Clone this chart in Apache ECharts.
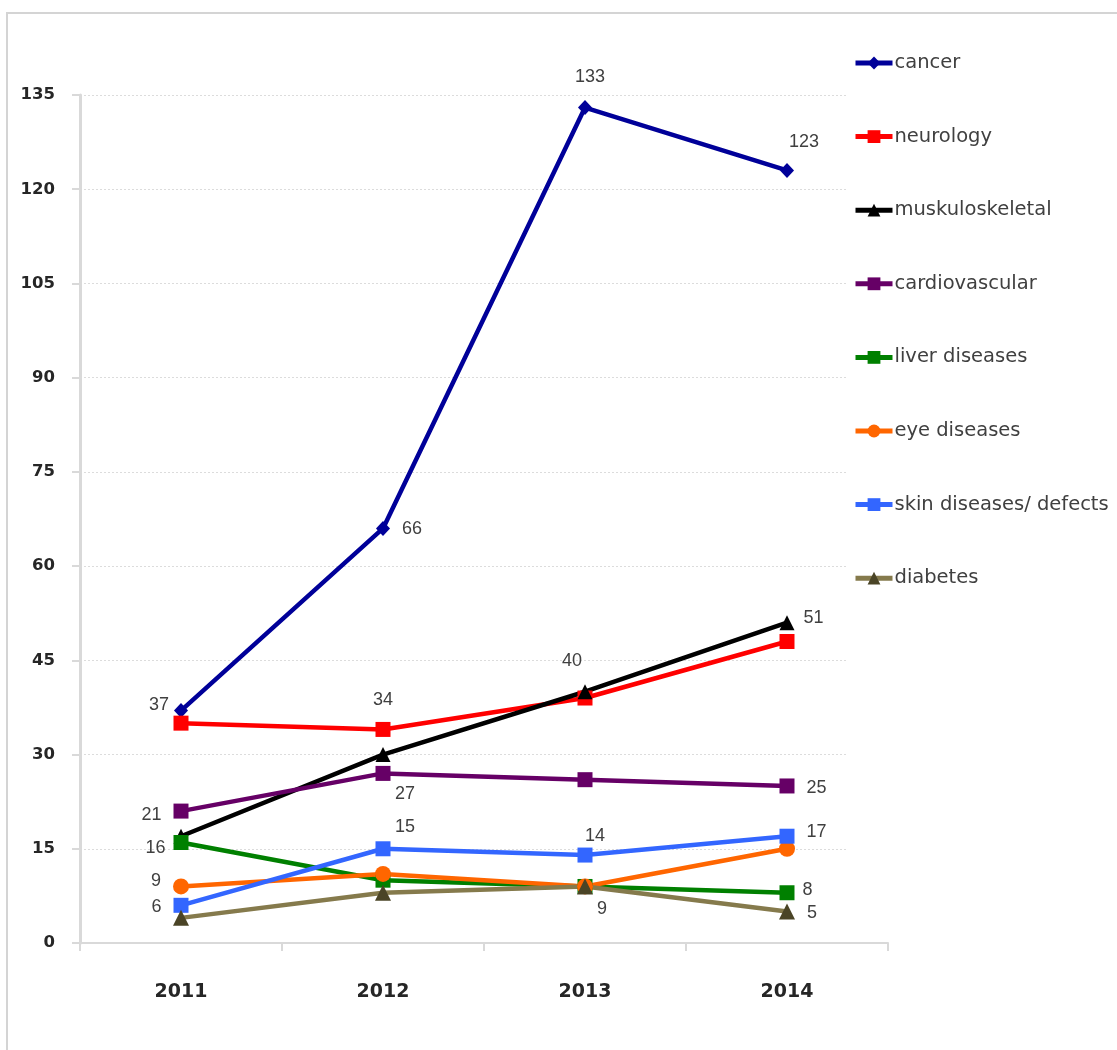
<!DOCTYPE html>
<html>
<head>
<meta charset="utf-8">
<script src="https://cdn.jsdelivr.net/npm/echarts@6/dist/echarts.min.js"></script>
<style>
html,body{margin:0;padding:0;background:#fff;overflow:hidden;}
#frame{position:absolute;left:6px;top:12px;width:1300px;height:1200px;border:2px solid #d4d4d4;box-sizing:border-box;}
#chart{position:absolute;left:0;top:0;width:1117px;height:1050px;}
</style>
</head>
<body>
<div id="frame"></div>
<div id="chart"></div>
<script>
const years = ['2011', '2012', '2013', '2014'];
const cancer = [37, 66, 133, 123];
const neurology = [35, 34, 39, 48];
const muskuloskeletal = [17, 30, 40, 51];
const cardiovascular = [21, 27, 26, 25];
const liverDiseases = [16, 10, 9, 8];
const eyeDiseases = [9, 11, 9, 15];
const skinDiseases = [6, 15, 14, 17];
const diabetes = [4, 8, 9, 5];
const yTicks = [0, 15, 30, 45, 60, 75, 90, 105, 120, 135];

const labelFont = {fontFamily: 'Liberation Sans, Arial, sans-serif', fontSize: 18, color: '#404040'};

function mkData(values, labels) {
  return values.map((v, i) => {
    const item = {value: v};
    if (labels[i]) {
      item.label = Object.assign({show: true}, labelFont, labels[i]);
    } else {
      item.label = {show: false};
    }
    return item;
  });
}

const seriesDefs = [
  {name: 'cancer', values: cancer, color: '#000099', mcolor: '#000099', symbol: 'diamond', size: [14, 15],
   labels: [{position: 'left', distance: 5, offset: [0, -6]}, {position: 'right', distance: 12, offset: [0, 1]},
            {position: 'top', distance: 14, offset: [5, 0]}, {position: 'top', distance: 12, offset: [17, 0]}]},
  {name: 'neurology', values: neurology, color: '#ff0000', mcolor: '#ff0000', symbol: 'rect', size: 15,
   labels: [null, {position: 'top', distance: 13, offset: [0, 0]}, null, null]},
  {name: 'muskuloskeletal', values: muskuloskeletal, color: '#000000', mcolor: '#000000', symbol: 'triangle', size: 15,
   labels: [null, null, {position: 'top', distance: 14, offset: [-13, 0]}, {position: 'right', distance: 9, offset: [0, -5]}]},
  {name: 'cardiovascular', values: cardiovascular, color: '#660066', mcolor: '#660066', symbol: 'rect', size: 15,
   labels: [{position: 'left', distance: 12, offset: [0, 4]}, {position: 'bottom', distance: 4, offset: [22, 0]}, null,
            {position: 'right', distance: 12, offset: [0, 2]}]},
  {name: 'liver diseases', values: liverDiseases, color: '#008000', mcolor: '#008000', symbol: 'rect', size: 15,
   labels: [{position: 'left', distance: 8, offset: [0, 6]}, null, null, {position: 'right', distance: 8, offset: [0, -3]}]},
  {name: 'eye diseases', values: eyeDiseases, color: '#ff6600', mcolor: '#ff6600', symbol: 'circle', size: 16,
   labels: [{position: 'left', distance: 12, offset: [0, -5]}, null, null, null]},
  {name: 'skin diseases/ defects', values: skinDiseases, color: '#3366ff', mcolor: '#3366ff', symbol: 'rect', size: 15,
   labels: [{position: 'left', distance: 12, offset: [0, 2]}, {position: 'top', distance: 5, offset: [22, 0]},
            {position: 'top', distance: 3, offset: [10, 0]}, {position: 'right', distance: 12, offset: [0, -4]}]},
  {name: 'diabetes', values: diabetes, color: '#857a4c', mcolor: '#4a4426', symbol: 'triangle', size: 16,
   labels: [null, null, {position: 'bottom', distance: 6, offset: [17, 0]}, {position: 'right', distance: 12, offset: [0, 1]}]}
];

const chart = echarts.init(document.getElementById('chart'), null, {renderer: 'canvas'});

const series = seriesDefs.map(d => ({
  name: d.name,
  type: 'line',
  xAxisIndex: 0,
  yAxisIndex: 0,
  data: mkData(d.values, d.labels),
  symbol: d.symbol,
  symbolSize: d.size,
  showAllSymbol: true,
  lineStyle: {color: d.color, width: 4.5},
  itemStyle: {color: d.mcolor, borderWidth: 0},
  emphasis: {disabled: true},
  animation: false
}));

chart.setOption({
  backgroundColor: 'transparent',
  animation: false,
  grid: [
    {left: 80, right: 229, top: 95, bottom: 107},
    {left: 80, right: 269, top: 95, bottom: 107}
  ],
  legend: {
    orient: 'vertical',
    left: 853,
    top: 53,
    padding: 0,
    itemWidth: 37,
    itemHeight: 16,
    itemGap: 53.6,
    lineStyle: {width: 5},
    textStyle: {fontFamily: 'DejaVu Sans, sans-serif', fontSize: 19.5, color: '#404040', lineHeight: 16, padding: [0, 0, 0, -3]},
    data: seriesDefs.map(d => d.name)
  },
  xAxis: [
    {
      type: 'category', gridIndex: 0, data: years, boundaryGap: true,
      axisLine: {show: true, lineStyle: {color: '#d9d9d9', width: 2}},
      axisTick: {show: true, length: 8, lineStyle: {color: '#d9d9d9', width: 2}},
      axisLabel: {margin: 40, fontFamily: 'DejaVu Sans, sans-serif', fontWeight: 'bold', fontSize: 19, color: '#262626'},
      splitLine: {show: false}
    },
    {type: 'value', gridIndex: 1, min: 0, max: 1, show: false}
  ],
  yAxis: [
    {
      type: 'value', gridIndex: 0, min: yTicks[0], max: yTicks[yTicks.length - 1], interval: 15,
      axisLine: {show: true, lineStyle: {color: '#d9d9d9', width: 3}},
      axisTick: {show: true, length: 8, lineStyle: {color: '#d9d9d9', width: 2}},
      axisLabel: {margin: 25, fontFamily: 'DejaVu Sans, sans-serif', fontWeight: 'bold', fontSize: 16.5, color: '#262626'},
      splitLine: {show: false}
    },
    {
      type: 'value', gridIndex: 1, min: yTicks[0], max: yTicks[yTicks.length - 1], interval: 15,
      axisLine: {show: false}, axisTick: {show: false}, axisLabel: {show: false},
      splitLine: {show: true, lineStyle: {color: '#dcdcdc', width: 1, type: [2, 2]}}
    }
  ],
  series: series
});
</script>
</body>
</html>
